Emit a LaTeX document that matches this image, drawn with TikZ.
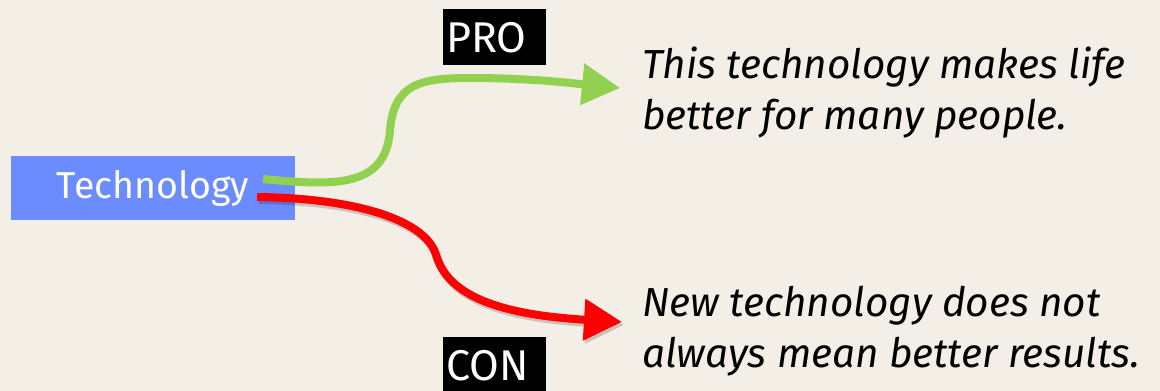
\documentclass[tikz,border=0pt]{standalone}
\usepackage{fontspec}
\setsansfont{Fira Sans}
\usetikzlibrary{arrows.meta}
\definecolor{bgcream}{HTML}{F3EFE6}
\definecolor{techblue}{HTML}{6A8CFF}
\definecolor{progreen}{HTML}{92D050}
\definecolor{conred}{HTML}{FF0000}
\begin{document}
\begin{tikzpicture}[x=1pt,y=-1pt]
	\tikzset{topic/.style={fill=techblue,text=white,minimum width=284pt,minimum height=64pt,inner sep=0pt,
			font=\sffamily\fontsize{37.5}{44}\selectfont},
		tag/.style={fill=black,text=white,anchor=north west,minimum height=56pt,text width=97pt,
			inner xsep=3pt,inner ysep=0pt,align=left,font=\sffamily\fontsize{43}{48}\selectfont},
		claim/.style={anchor=base west,align=left,inner sep=0pt,font=\sffamily\itshape\fontsize{40.5}{51}\selectfont},
		link/.style={line width=8pt,-{Triangle[length=38pt,width=40pt]}}}
	\fill[bgcream] (0,0) rectangle (1160,391);
	\useasboundingbox (0,0) rectangle (1160,391);
	\node[topic] (tech) at (153,188) {Technology};
	\node[tag] (pro) at (443,9) {PRO};
	\node[tag] (con) at (443,337) {CON};
	\node[claim] (protext) at (642,129) {This technology makes life\\better for many people.};
	\node[claim] (context) at (642,367) {New technology does not\\always mean better results.};
	\coordinate (proTip) at (620,88);
	\coordinate (conTip) at (622,322);
	% pro link
	\draw[link,progreen] ([shift={(-32,-9)}]tech.east) .. controls (335,186) and (386,188) .. (390,130)
		.. controls (394,84) and (420,78) .. (470,78) .. controls (530,78) and (570,83) .. (proTip);
	% con link, with a soft shadow
	\draw[link,black,opacity=.18,transform canvas={shift={(2pt,-3pt)}}] ([shift={(-38,9)}]tech.east)
		.. controls (350,198) and (425,218) .. (436,255) .. controls (447,292) and (490,314) .. (conTip);
	\draw[link,conred] ([shift={(-38,9)}]tech.east)
		.. controls (350,198) and (425,218) .. (436,255) .. controls (447,292) and (490,314) .. (conTip);
\end{tikzpicture}
\end{document}
